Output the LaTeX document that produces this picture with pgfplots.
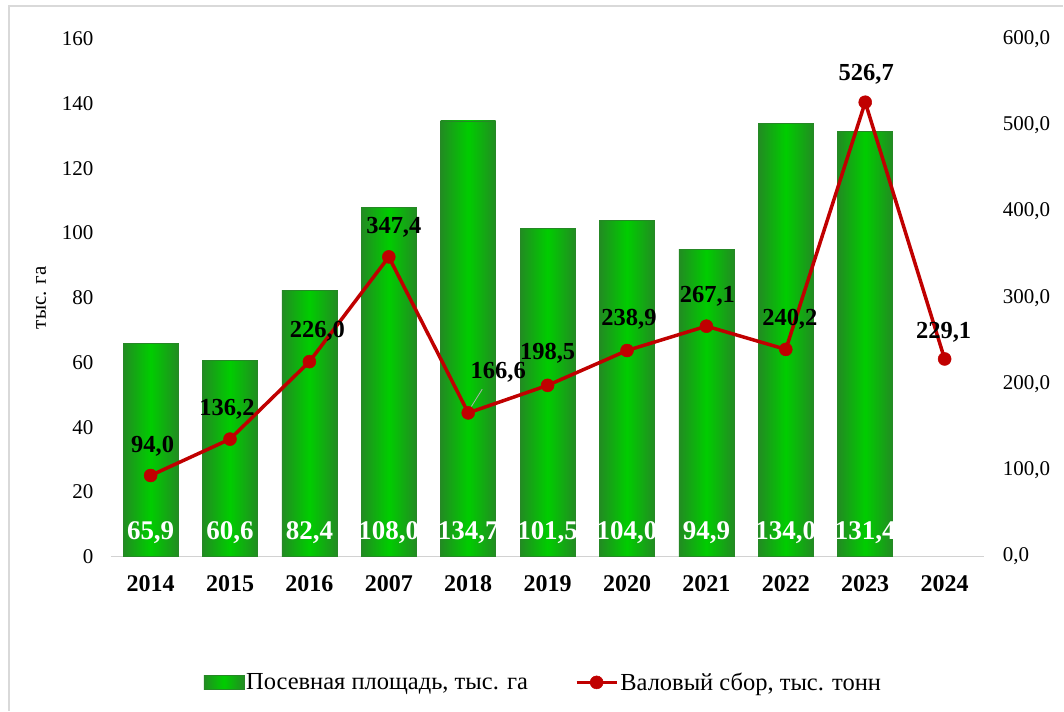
\documentclass[border=0pt]{standalone}
\usepackage{pgfplots}
\pgfplotsset{compat=1.18}
\usepackage{pgfplotstable}
\usepackage{fontspec}
\setmainfont{Liberation Serif}
\definecolor{barDark}{RGB}{34,140,34}
\definecolor{barLight}{RGB}{0,205,0}
\definecolor{lineRed}{RGB}{192,0,0}
\pgfplotsset{
  linelegend/.style={legend image code/.code={\draw[##1, mark repeat=2, mark phase=2] plot coordinates {(0pt,0pt) (20pt,0pt) (40pt,0pt)};}},
  barlegend/.style={legend image code/.code={\draw[draw=black!45!green!70!gray, line width=0.6pt,
    left color=barDark, right color=barDark, middle color=barLight] (0pt,-7pt) rectangle (40pt,7pt);}},
  greenbar/.style={ybar, bar shift=0pt, bar width=55pt, draw=black!45!green!70!gray, line width=0.6pt,
    left color=barDark, right color=barDark, middle color=barLight},
}
\pgfplotstableread{
x area gross dx dy
0 65.9 94.0 2 29
1 60.6 136.2 -3 30
2 82.4 226.0 8 30
3 108.0 347.4 5 30
4 134.7 166.6 30 41
5 101.5 198.5 0 32
6 104.0 238.9 2 31
7 94.9 267.1 1 30
8 134.0 240.2 4 30
9 131.4 526.7 1 28
10 nan 229.1 -1 27
}\datatable
\begin{document}
\begin{tikzpicture}
\pgfplotsset{
  common/.style={
    scale only axis, width=874pt, height=518pt,
    xmin=-0.5, xmax=10.5,
    /pgf/number format/assume math mode=true,
    major tick length=0pt,
    tick label style={font=\fontsize{21}{25}\selectfont},
  }
}
\begin{axis}[common,
  ymin=0, ymax=160, ytick={0,20,...,160},
  axis x line*=bottom, axis y line*=left,
  y axis line style={draw=none},
  x axis line style={draw=gray!35, line width=1pt},
  xtick={0,...,10},
  xticklabels={2014,2015,2016,2007,2018,2019,2020,2021,2022,2023,2024},
  xticklabel style={font=\fontsize{24}{28}\selectfont\bfseries, yshift=-15pt},
  yticklabel style={xshift=-14pt},
  ylabel={тыс. га},
  ylabel style={font=\fontsize{21}{25}\selectfont, yshift=9pt},
]
\pgfplotsinvokeforeach{0,...,9}{
  \addplot[greenbar, restrict x to domain=#1:#1] table[x=x, y=area] {\datatable};
}
\addplot[draw=none, mark=none,
  point meta=explicit, nodes near coords,
  nodes near coords style={font=\fontsize{27}{31}\selectfont\bfseries, text=white,
    anchor=center, yshift=24pt, inner sep=0pt,
    /pgf/number format/.cd, fixed, fixed zerofill, precision=1, use comma}]
  table[x=x, y expr=0, meta=area] {\datatable};
\end{axis}
\begin{axis}[common,
  ymin=0, ymax=600, ytick={0,100,...,600},
  axis x line=none, axis y line*=right,
  y axis line style={draw=none},
  yticklabel style={xshift=15pt, /pgf/number format/.cd, fixed, fixed zerofill, precision=1, use comma},
  legend style={at={(0.495,-0.243)}, anchor=center, draw=none, fill=none,
    font=\fontsize{24.5}{28}\selectfont, legend columns=2,
    /tikz/every even column/.style={column sep=45pt}},
]
\addlegendimage{barlegend}
\addlegendentry{Посевная площадь, тыс. га}
\draw[gray!60, line width=0.8pt] (axis cs:4.04,174) -- (axis cs:4.176,194);
\addplot[color=lineRed, line width=3.5pt, mark=*, mark size=6.5pt,
  mark options={fill=lineRed, draw=lineRed, line width=0.5pt},
  linelegend,
  point meta=explicit, nodes near coords,
  visualization depends on={\thisrow{dx} \as \dx},
  visualization depends on={\thisrow{dy} \as \dy},
  nodes near coords style={font=\fontsize{24.5}{28}\selectfont\bfseries, text=black,
    anchor=center, inner sep=0pt, xshift=\dx pt, yshift=\dy pt,
    /pgf/number format/.cd, fixed, fixed zerofill, precision=1, use comma}]
  table[x=x, y=gross, meta=gross] {\datatable};
\addlegendentry{Валовый сбор, тыс. тонн}
\end{axis}
\draw[gray!30, line width=1.5pt] (-102pt,-154pt) -- (-102pt,551pt) -- (953pt,551pt);
\useasboundingbox (-111pt,-154pt) rectangle (953pt,557pt);
\end{tikzpicture}
\end{document}
